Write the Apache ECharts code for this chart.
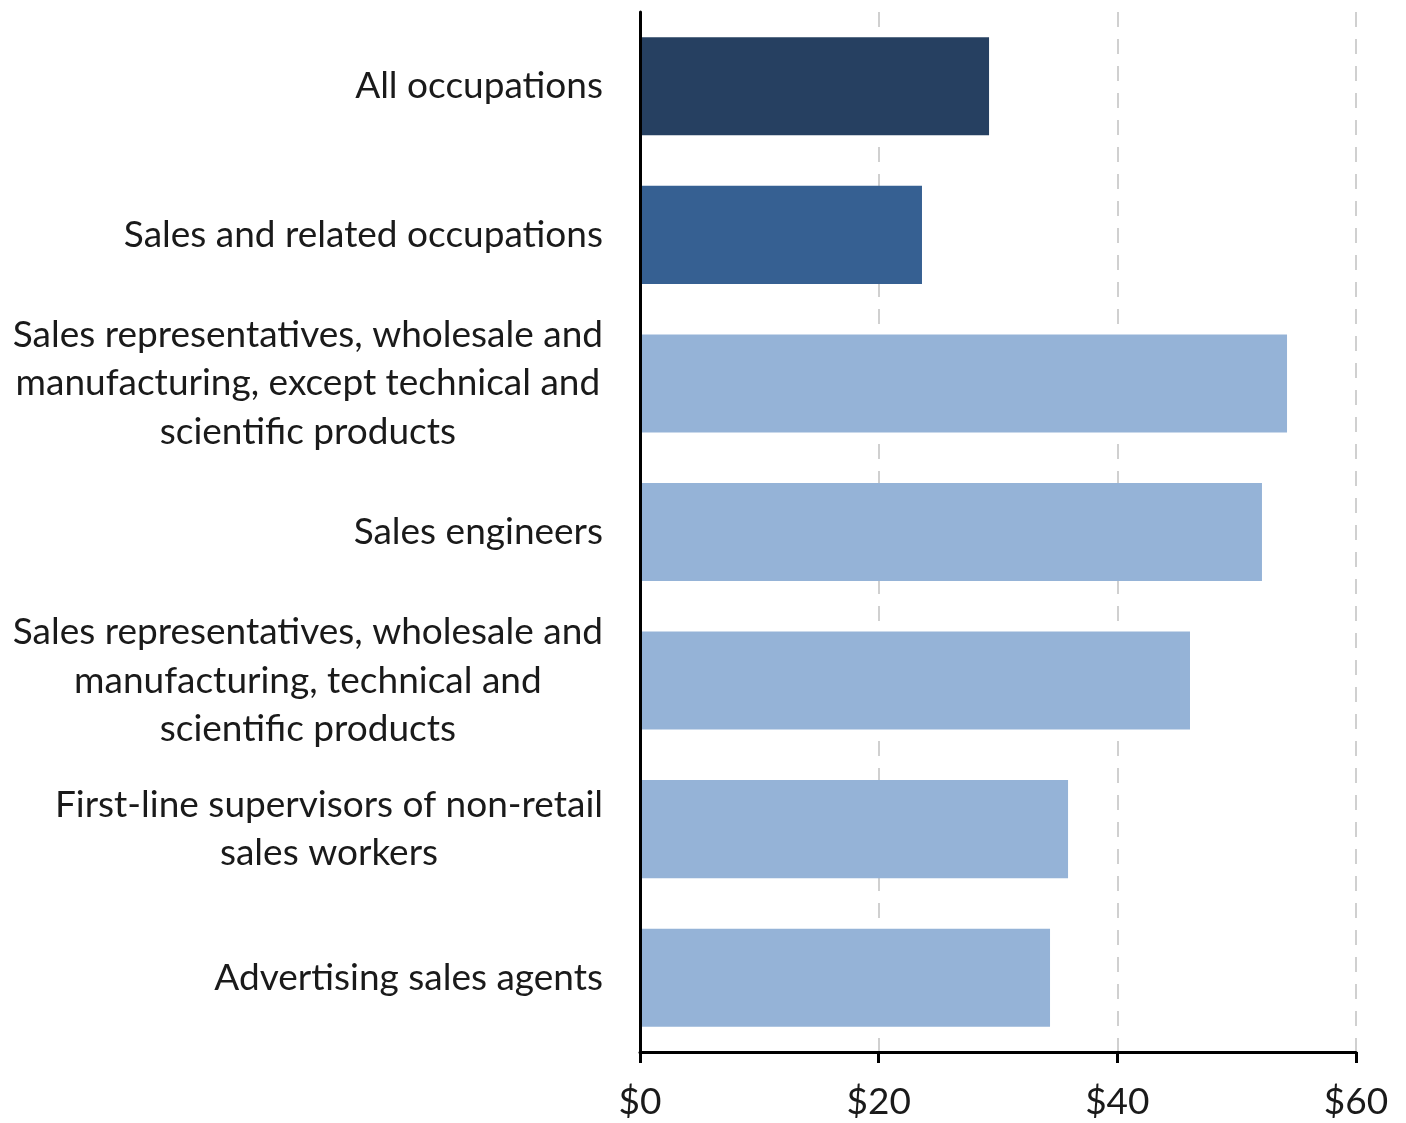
<!DOCTYPE html>
<html>
<head>
<meta charset="utf-8">
<script src="https://cdn.jsdelivr.net/npm/echarts@6/dist/echarts.min.js"></script>
<style>
    html, body { margin: 0; padding: 0; background: #fff; }
    #chart { width: 1406px; height: 1123px; }
</style>
</head>
<body>
<div id="chart"></div>
<script>
// 职业类别（从上到下）
const categories = [
    'All occupations',
    'Sales and related occupations',
    'Sales representatives, wholesale and\nmanufacturing, except technical and\nscientific products',
    'Sales engineers',
    'Sales representatives, wholesale and\nmanufacturing, technical and\nscientific products',
    'First-line supervisors of non-retail\nsales workers',
    'Advertising sales agents'
];
// 时薪中位数（美元）
const wages = [29.25, 23.63, 54.22, 52.12, 46.09, 35.87, 34.36];
// 柱子颜色
const barColors = ['#264061', '#366092', '#95B3D7', '#95B3D7', '#95B3D7', '#95B3D7', '#95B3D7'];
// x轴刻度
const xTicks = [0, 20, 40, 60];

const FONT = 'Lato';
const FS = 37;

let chart = echarts.init(document.getElementById('chart'));

let option = {
    animation: false,
    grid: {
        left: 640,
        right: 50,
        top: 12,
        bottom: 71,
        containLabel: false
    },
    xAxis: {
        type: 'value',
        min: xTicks[0],
        max: xTicks[xTicks.length - 1],
        interval: 20,
        axisLine: {
            show: true,
            lineStyle: { color: '#000', width: 3 }
        },
        axisTick: {
            show: true,
            length: 11,
            lineStyle: { color: '#000', width: 3 }
        },
        axisLabel: {
            margin: 30,
            color: '#1a1a1a',
            fontFamily: FONT,
            fontSize: FS,
            lineHeight: 40,
            formatter: function (v) { return '$' + v; }
        },
        splitLine: {
            show: true,
            lineStyle: { color: '#d0d0d0', width: 2, type: [15, 12] }
        }
    },
    yAxis: {
        type: 'category',
        // 纵轴线画在柱子上方
        z: 5,
        inverse: true,
        data: categories,
        axisLine: {
            show: true,
            onZero: false,
            lineStyle: { color: '#000', width: 3 }
        },
        axisTick: { show: false },
        axisLabel: {
            margin: 37,
            align: 'right',
            formatter: function (v) {
                return v.split('\n').map(function (s) { return '{c|' + s + '}'; }).join('\n');
            },
            rich: {
                c: {
                    align: 'center',
                    color: '#1a1a1a',
                    fontFamily: FONT,
                    fontSize: FS,
                    lineHeight: 48.5
                }
            }
        }
    },
    series: [
        {
            type: 'bar',
            barCategoryGap: '34%',
            data: wages.map(function (v, i) {
                return { value: v, itemStyle: { color: barColors[i] } };
            })
        }
    ]
};
chart.setOption(option);
</script>
</body>
</html>
